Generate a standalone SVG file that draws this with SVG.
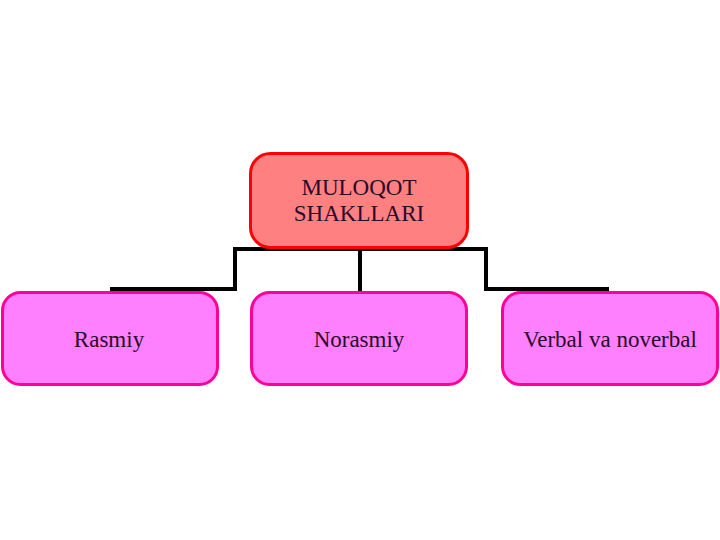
<svg xmlns="http://www.w3.org/2000/svg" width="720" height="540" viewBox="0 0 720 540">
<style>
.top{fill:#ff8080;stroke:#ff0000;stroke-width:3}
.leaf{fill:#ff80ff;stroke:#ff0099;stroke-width:3}
text{font-family:"Liberation Serif","Times New Roman",serif;font-size:23px;fill:#2a0a2a;text-anchor:middle}
.conn{fill:none;stroke:#000;stroke-width:4}
</style>
<rect width="720" height="540" fill="#fff"/>
<g id="connectors">
<polyline class="conn" points="110,289 235,289 235,249 486,249 486,289 609,289"/>
<line class="conn" x1="360" y1="249" x2="360" y2="292"/>
</g>
<g id="root">
<rect class="top" x="250.5" y="153.5" width="217" height="94" rx="20"/>
<text x="359" y="195">MULOQOT</text>
<text x="359" y="221">SHAKLLARI</text>
</g>
<g id="rasmiy">
<rect class="leaf" x="2.5" y="292.5" width="215" height="92" rx="18"/>
<text x="109" y="347">Rasmiy</text>
</g>
<g id="norasmiy">
<rect class="leaf" x="251.5" y="292.5" width="215" height="92" rx="18"/>
<text x="359" y="347">Norasmiy</text>
</g>
<g id="verbal">
<rect class="leaf" x="502.5" y="292.5" width="215" height="92" rx="18"/>
<text x="610" y="347">Verbal va noverbal</text>
</g>
</svg>
